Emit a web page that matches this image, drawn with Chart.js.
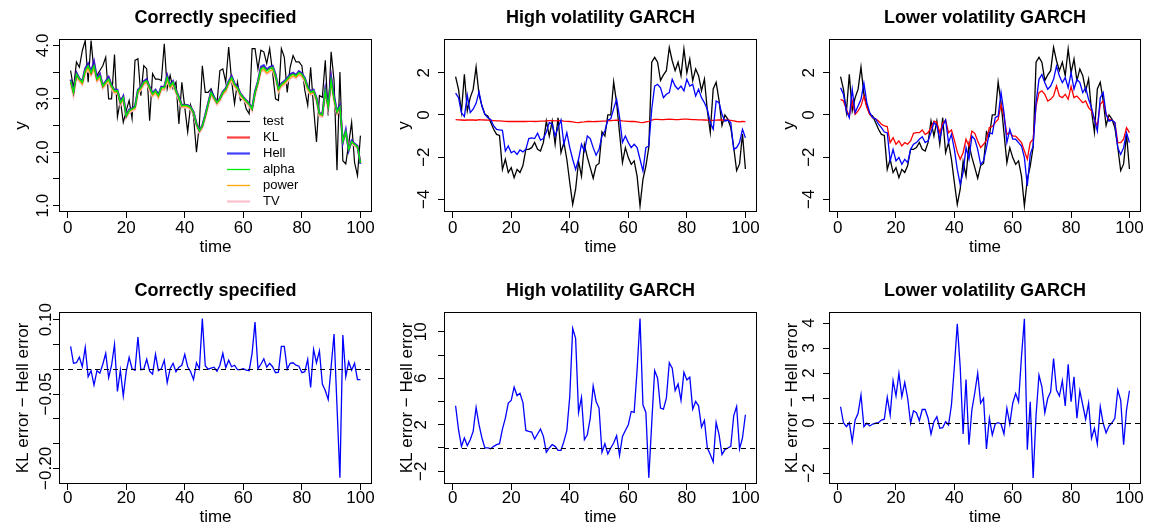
<!DOCTYPE html>
<html><head><meta charset="utf-8">
<script src="https://cdn.jsdelivr.net/npm/chart.js@4.4.1/dist/chart.umd.min.js"></script>
<style>
html,body{margin:0;padding:0;background:#fff;}
#wrap{position:relative;width:1149px;height:528px;overflow:hidden;background:#fff;}
canvas{position:absolute;}
</style></head><body><div id="wrap">
<canvas id="c1" width="383" height="264" style="left:0px;top:0px"></canvas>
<canvas id="c2" width="383" height="264" style="left:383px;top:0px"></canvas>
<canvas id="c3" width="383" height="264" style="left:766px;top:0px"></canvas>
<canvas id="c4" width="383" height="264" style="left:0px;top:264px"></canvas>
<canvas id="c5" width="383" height="264" style="left:383px;top:264px"></canvas>
<canvas id="c6" width="383" height="264" style="left:766px;top:264px"></canvas>
</div>
<script>
// ---------------- data ----------------
const time = Array.from({length: 100}, (_, i) => i + 1);

const testCS = [3.53,3.19,3.69,3.59,3.90,4.09,3.31,4.09,3.50,3.44,
3.53,3.62,3.78,3.00,3.00,3.83,2.66,2.97,2.56,2.78,
2.97,2.63,3.72,3.75,3.06,3.62,3.56,2.59,3.47,3.37,
3.37,3.34,4.03,3.19,3.44,3.19,3.31,2.53,3.31,2.84,
2.38,2.88,2.66,2.00,2.53,3.62,3.12,3.12,3.19,3.03,
2.91,3.53,3.56,3.31,3.97,3.34,2.91,3.31,2.97,3.03,
2.81,2.72,3.94,3.94,3.56,3.91,3.88,3.66,3.94,3.50,
3.00,2.97,3.94,3.78,3.12,3.59,3.81,3.69,3.69,3.62,
3.16,2.88,3.59,2.84,2.19,3.06,3.03,3.72,2.69,3.88,
3.34,1.66,3.50,1.84,1.78,2.16,2.56,1.81,1.56,2.31];

const fitAlphaCS = [3.34,3.12,3.46,3.37,3.31,3.53,3.62,3.49,3.62,3.37,
3.43,3.24,3.31,3.37,3.24,3.15,3.15,2.93,3.02,2.68,
2.78,2.81,2.84,3.15,3.21,3.31,3.34,3.21,3.09,3.15,
3.06,3.21,3.21,3.40,3.24,3.31,3.15,3.02,2.87,2.88,
2.87,2.84,2.74,2.53,2.40,2.49,2.68,2.90,3.12,3.02,
2.93,3.00,3.12,3.18,3.31,3.40,3.27,3.21,3.09,3.02,
2.96,2.90,2.81,3.12,3.31,3.56,3.59,3.52,3.56,3.59,
3.43,3.18,3.27,3.31,3.37,3.43,3.46,3.43,3.49,3.46,
3.37,3.21,3.12,3.15,3.00,2.72,2.70,3.15,2.85,3.35,
3.00,2.75,2.85,2.20,2.38,2.05,2.20,2.15,2.10,1.80];

const fitHellCS = [3.36,3.14,3.49,3.38,3.33,3.57,3.66,3.51,3.70,3.39,
3.47,3.25,3.33,3.41,3.25,3.17,3.17,2.94,3.05,2.69,
2.80,2.82,2.86,3.17,3.22,3.33,3.37,3.22,3.11,3.17,
3.08,3.23,3.22,3.44,3.26,3.33,3.16,3.03,2.88,2.89,
2.88,2.85,2.75,2.54,2.41,2.50,2.70,2.92,3.14,3.04,
2.94,3.01,3.13,3.20,3.33,3.43,3.29,3.23,3.10,3.03,
2.97,2.91,2.82,3.14,3.33,3.60,3.63,3.55,3.60,3.62,
3.46,3.20,3.29,3.33,3.39,3.46,3.49,3.45,3.52,3.48,
3.39,3.23,3.14,3.17,3.02,2.73,2.71,3.19,2.87,3.42,
3.05,2.77,2.88,2.18,2.42,2.03,2.22,2.16,2.12,1.78];

const fitKLCS = [3.35,3.13,3.48,3.38,3.32,3.56,3.65,3.50,3.68,3.38,
3.46,3.25,3.32,3.40,3.25,3.16,3.16,2.94,3.04,2.69,
2.79,2.82,2.85,3.16,3.22,3.32,3.36,3.22,3.10,3.16,
3.07,3.22,3.22,3.43,3.25,3.32,3.16,3.03,2.88,2.89,
2.88,2.85,2.75,2.54,2.41,2.50,2.69,2.91,3.13,3.03,
2.94,3.01,3.13,3.19,3.32,3.42,3.28,3.22,3.10,3.03,
2.97,2.91,2.82,3.13,3.32,3.58,3.61,3.54,3.58,3.61,
3.45,3.19,3.28,3.32,3.38,3.45,3.48,3.44,3.51,3.47,
3.38,3.22,3.13,3.16,3.01,2.73,2.71,3.17,2.86,3.40,
3.03,2.76,2.87,2.19,2.40,2.04,2.21,2.16,2.11,1.79];

const fitPowerCS = [3.31,3.09,3.43,3.34,3.28,3.49,3.57,3.45,3.57,3.34,
3.40,3.21,3.28,3.34,3.21,3.12,3.12,2.90,2.99,2.66,
2.76,2.79,2.82,3.12,3.18,3.28,3.31,3.18,3.06,3.12,
3.03,3.18,3.18,3.36,3.21,3.28,3.12,3.00,2.85,2.86,
2.85,2.82,2.72,2.51,2.38,2.47,2.66,2.88,3.09,3.00,
2.91,2.98,3.09,3.15,3.28,3.36,3.24,3.18,3.06,3.00,
2.94,2.88,2.79,3.09,3.28,3.52,3.55,3.48,3.52,3.55,
3.40,3.15,3.24,3.28,3.34,3.40,3.43,3.40,3.46,3.43,
3.34,3.18,3.09,3.12,2.97,2.70,2.68,3.12,2.82,3.30,
2.97,2.73,2.83,2.22,2.36,2.07,2.18,2.14,2.09,1.82];

const fitTVCS = [3.28,3.05,3.40,3.32,3.26,3.46,3.54,3.43,3.54,3.32,
3.38,3.19,3.26,3.32,3.19,3.10,3.10,2.88,2.97,2.64,
2.74,2.77,2.80,3.10,3.16,3.26,3.29,3.16,3.04,3.10,
3.01,3.16,3.16,3.34,3.19,3.26,3.10,2.98,2.83,2.84,
2.83,2.80,2.70,2.49,2.36,2.45,2.64,2.86,3.07,2.98,
2.89,2.96,3.07,3.13,3.26,3.34,3.22,3.16,3.04,2.98,
2.92,2.86,2.77,3.07,3.26,3.50,3.53,3.46,3.50,3.53,
3.38,3.13,3.22,3.26,3.32,3.38,3.41,3.38,3.44,3.41,
3.32,3.16,3.07,3.10,2.95,2.68,2.66,3.10,2.80,3.28,
2.95,2.71,2.81,2.24,2.34,2.09,2.16,2.12,2.07,1.84];

const testGARCH = [1.82,1.21,0.14,1.93,0.19,0.82,1.21,2.27,0.98,0.42,
0.03,-0.05,-0.36,-0.68,-0.92,-0.97,-2.58,-2.10,-2.73,-2.50,
-2.97,-2.58,-2.73,-2.40,-1.63,-1.63,-1.55,-1.30,-1.63,-1.71,
-1.30,-0.29,-1.00,-0.29,-1.39,-0.13,-1.79,-1.30,-2.10,-3.20,
-4.24,-3.52,-2.20,-2.90,-1.40,-2.00,-2.50,-3.00,-2.40,-2.30,
-0.80,-1.00,0.00,0.00,1.56,0.58,-0.84,-2.26,-1.55,-2.02,
-2.34,-2.18,-2.90,-4.31,-3.05,-2.42,-1.53,2.50,2.73,2.50,
1.63,1.90,2.10,3.20,2.57,2.10,2.50,1.86,3.13,2.00,
2.65,1.63,2.18,1.86,1.15,1.70,0.20,-0.82,1.23,1.55,
0.68,-0.50,0.00,-0.20,-0.60,-1.53,-2.64,-2.32,-0.90,-2.56];

const fitKLHigh = [-0.22,-0.23,-0.24,-0.25,-0.24,-0.23,-0.24,-0.25,-0.22,-0.23,
-0.24,-0.25,-0.26,-0.27,-0.28,-0.28,-0.29,-0.30,-0.31,-0.30,
-0.31,-0.31,-0.30,-0.31,-0.31,-0.30,-0.30,-0.31,-0.30,-0.29,
-0.29,-0.28,-0.27,-0.27,-0.28,-0.27,-0.27,-0.29,-0.30,-0.31,
-0.33,-0.35,-0.36,-0.34,-0.33,-0.31,-0.31,-0.32,-0.31,-0.30,
-0.29,-0.29,-0.28,-0.27,-0.26,-0.25,-0.26,-0.28,-0.29,-0.30,
-0.31,-0.31,-0.33,-0.35,-0.36,-0.33,-0.30,-0.24,-0.21,-0.21,
-0.22,-0.22,-0.21,-0.20,-0.21,-0.22,-0.22,-0.21,-0.20,-0.20,
-0.21,-0.22,-0.22,-0.23,-0.23,-0.24,-0.25,-0.26,-0.26,-0.25,
-0.24,-0.24,-0.23,-0.24,-0.26,-0.28,-0.31,-0.33,-0.31,-0.32];

const fitHellHigh = [1.03,0.82,0.11,-0.08,0.93,0.11,0.27,0.55,1.09,0.42,
0.03,-0.13,-0.21,-0.52,-0.68,-0.71,-0.73,-1.71,-1.47,-1.79,
-1.71,-1.87,-1.66,-1.75,-1.63,-1.12,-1.09,-1.12,-0.87,-1.19,
-1.12,-0.81,-0.36,-0.44,-1.00,-0.60,-0.24,-1.39,-0.84,-1.55,
-2.10,-2.58,-2.10,-1.39,-1.71,-1.00,-1.12,-1.55,-1.91,-1.63,
-1.00,-0.76,-0.24,-0.18,0.30,0.74,-0.10,-1.30,-1.00,-1.31,
-1.55,-1.39,-1.55,-2.10,-2.66,-1.55,-1.47,0.27,1.37,1.45,
1.29,0.82,0.98,1.06,1.69,1.37,1.22,1.37,1.14,1.69,
1.37,1.45,0.90,1.22,0.82,0.58,0.27,-0.36,-0.68,0.66,
0.58,0.03,-0.29,-0.24,-0.36,-1.63,-1.55,-1.31,-0.68,-1.08];

const fitKLLow = [0.74,0.66,0.27,-0.05,0.66,0.03,0.19,0.42,0.90,0.35,
0.03,-0.13,-0.18,-0.29,-0.44,-0.52,-0.55,-1.31,-1.08,-1.39,
-1.23,-1.47,-1.31,-1.39,-1.23,-0.87,-0.84,-0.84,-0.71,-0.92,
-0.84,-0.60,-0.29,-0.36,-0.84,-0.40,-0.24,-0.84,-0.71,-1.19,
-1.75,-2.10,-1.79,-1.15,-1.47,-0.77,-0.87,-1.23,-1.55,-1.39,
-1.20,-0.60,-0.55,-0.36,-0.21,0.50,-0.05,-0.92,-0.84,-1.00,
-1.00,-1.15,-1.31,-1.71,-2.10,-1.31,-1.15,0.42,1.06,1.14,
0.98,0.66,0.74,0.90,1.38,0.90,0.82,0.98,0.74,1.35,
0.82,0.90,0.74,0.58,0.66,0.35,0.19,-0.21,-0.52,0.50,
0.66,0.03,-0.21,-0.24,-0.36,-1.31,-1.31,-1.15,-0.60,-0.84];

const fitHellLow = [1.29,0.98,0.19,-0.13,1.21,0.11,0.42,0.74,1.50,0.58,
0.11,-0.13,-0.18,-0.44,-0.60,-0.81,-0.84,-2.18,-1.63,-2.18,
-2.02,-2.34,-2.10,-2.26,-1.63,-1.39,-1.31,-1.15,-1.03,-1.31,
-1.23,-0.84,-0.36,-0.52,-1.15,-0.52,-0.24,-1.31,-0.92,-1.63,
-2.58,-3.29,-2.73,-1.55,-2.10,-1.00,-1.15,-1.63,-2.34,-2.18,
-1.55,-0.84,-0.90,-0.13,-0.05,1.06,0.11,-1.31,-0.68,-1.15,
-1.15,-1.31,-1.47,-2.02,-3.37,-1.87,-1.47,0.58,1.69,1.92,
1.53,1.22,1.37,1.69,2.32,1.85,1.53,1.77,1.29,2.00,
1.22,1.69,1.53,1.06,1.29,0.74,0.35,-0.21,-0.76,0.82,
1.06,0.03,-0.29,-0.24,-0.36,-1.55,-1.87,-1.55,-0.84,-1.31];

const diffCS = [0.046,0.012,0.013,0.024,0.005,0.044,-0.015,-0.003,-0.032,-0.003,
-0.008,0.010,0.032,-0.017,0.008,0.050,-0.045,-0.002,-0.054,-0.005,
0.024,0.001,-0.002,0.065,-0.001,0.000,0.020,-0.004,-0.010,0.030,
-0.003,0.001,0.018,-0.027,0.001,0.012,-0.005,0.004,0.008,0.030,
0.005,-0.005,-0.021,0.013,0.001,0.102,0.007,0.000,0.002,0.004,
-0.004,0.008,0.032,0.003,0.018,0.005,0.008,-0.001,-0.001,0.001,
-0.002,-0.003,0.032,0.095,0.001,0.010,0.021,0.004,0.012,0.005,
-0.007,-0.006,0.046,0.046,0.000,0.012,0.013,0.008,0.006,-0.007,
-0.005,0.020,-0.037,0.040,0.013,0.037,-0.030,-0.043,-0.061,0.005,
0.071,-0.074,-0.219,0.069,-0.015,0.015,-0.002,0.012,-0.021,-0.021];

const diffHigh = [3.63,1.57,0.14,0.86,0.20,0.71,1.43,3.49,2.00,0.86,
0.00,0.00,-0.06,0.14,0.29,0.37,1.63,2.57,3.86,4.09,
5.23,4.51,4.71,3.91,1.51,1.43,1.37,0.77,1.20,1.63,
1.00,-0.37,0.00,0.29,0.14,-0.20,-0.20,0.57,1.49,4.43,
10.29,9.43,3.06,4.34,0.71,1.14,2.57,5.34,4.00,3.43,
-0.37,0.37,-0.51,0.00,0.43,1.06,-0.63,1.00,1.51,2.00,
3.14,3.06,6.71,11.14,3.71,3.06,-2.57,2.14,6.66,6.00,
3.43,3.34,4.29,7.34,6.86,4.94,5.51,4.09,6.51,5.86,
6.09,3.34,4.00,3.63,1.80,2.37,0.00,-0.57,-1.20,2.20,
1.14,-0.57,-0.14,0.00,0.14,2.77,3.57,-0.09,0.86,2.86];

const diffLow = [0.65,0.01,-0.15,0.01,-0.74,0.12,0.39,1.12,-0.15,-0.01,
-0.12,-0.04,-0.01,0.01,0.12,0.15,1.03,0.32,1.69,1.08,
1.98,1.05,1.62,0.99,-0.01,0.49,0.41,0.09,0.54,0.54,
0.19,-0.44,0.05,0.25,-0.21,-0.19,0.05,-0.08,0.72,2.25,
3.97,2.25,-0.44,1.74,-0.87,0.52,1.21,2.00,0.79,0.99,
-1.04,0.19,-0.48,-0.04,0.01,-0.04,-0.44,0.59,-0.04,0.79,
1.18,0.85,2.65,4.17,-1.07,0.85,-2.20,0.32,1.92,1.45,
0.41,0.99,1.25,2.58,1.32,1.08,1.69,0.68,2.35,0.85,
1.85,0.19,1.29,0.72,0.15,0.79,-0.61,-0.21,-0.84,0.65,
-0.01,-0.39,-0.12,0.01,0.19,1.32,0.92,-0.87,0.52,1.29];

// tick labels
const xTickValues = [0, 20, 40, 60, 80, 100];
const xTickLabels = ["0", "20", "40", "60", "80", "100"];
const yTickValsCS = [1, 2, 3, 4];
const yTickLabsCS = ["1.0", "2.0", "3.0", "4.0"];
const yTickValsG = [-4, -2, 0, 2];
const yTickLabsG = ["\u22124", "\u22122", "0", "2"];
const yTickValsDiffCS = [0.10, -0.05, -0.20];
const yTickLabsDiffCS = ["0.10", "\u22120.05", "\u22120.20"];
const yTickValsDiffHigh = [10, 6, 2, -2];
const yTickLabsDiffHigh = ["10", "6", "2", "\u22122"];
const yTickValsDiffLow = [4, 3, 2, 1, 0, -2];
const yTickLabsDiffLow = ["4", "3", "2", "1", "0", "\u22122"];

const legendLabels = ["test", "KL", "Hell", "alpha", "power", "TV"];

// ---------------- drawing ----------------
const FONT = '"Liberation Sans", Arial, Helvetica, sans-serif';
Chart.defaults.font.family = FONT;
Chart.defaults.color = '#000';

const COL = {
  test: '#000000', KL: 'rgba(255,0,0,0.75)', Hell: 'rgba(0,0,255,0.75)',
  alpha: '#00ee00', power: '#ffa500', TV: '#ffc0cb', red: '#ff0000', blue: '#0000ff'
};

function widest(labels, size) {
  const c = document.createElement('canvas').getContext('2d');
  c.font = 'normal ' + size + 'px ' + FONT;
  let w = 0;
  labels.forEach(s => { w = Math.max(w, c.measureText(s).width); });
  return w;
}

function series(vals, color, order, width) {
  return {
    data: vals.map((v, i) => ({x: time[i], y: v})),
    borderColor: color, backgroundColor: color, borderWidth: width || 1.3,
    pointRadius: 0, pointHoverRadius: 0, fill: false, tension: 0, order: order
  };
}

const framePlugin = {
  id: 'frame',
  afterDraw(chart) {
    const {ctx, chartArea: a} = chart;
    ctx.save();
    ctx.strokeStyle = '#000';
    ctx.lineWidth = 1;
    ctx.strokeRect(Math.round(a.left) + 0.5, Math.round(a.top) + 0.5,
      Math.round(a.right - a.left) - 1, Math.round(a.bottom - a.top) - 1);
    ctx.restore();
  }
};

function zeroLinePlugin(value) {
  return {
    id: 'zeroLine',
    afterDatasetsDraw(chart) {
      const {ctx, chartArea: a} = chart;
      const y = Math.round(chart.scales.y.getPixelForValue(value)) + 0.5;
      ctx.save();
      ctx.strokeStyle = '#000';
      ctx.lineWidth = 1.1;
      ctx.setLineDash([5, 4]);
      ctx.beginPath();
      ctx.moveTo(a.left, y);
      ctx.lineTo(a.right, y);
      ctx.stroke();
      ctx.restore();
    }
  };
}

function legendPlugin(cfg) {
  return {
    id: 'rlegend',
    afterDatasetsDraw(chart) {
      const {ctx, chartArea: a} = chart;
      ctx.save();
      ctx.font = '13px ' + FONT;
      ctx.textBaseline = 'middle';
      ctx.textAlign = 'left';
      ctx.fillStyle = '#000';
      cfg.labels.forEach((lab, i) => {
        const y = Math.round(a.top + cfg.y0 + i * cfg.dy) + 0.5;
        ctx.strokeStyle = cfg.colors[i];
        ctx.lineWidth = cfg.widths[i];
        ctx.beginPath();
        ctx.moveTo(a.left + cfg.x0, y);
        ctx.lineTo(a.left + cfg.x1, y);
        ctx.stroke();
        ctx.fillText(lab, a.left + cfg.tx, y);
      });
      ctx.restore();
    }
  };
}

const X_MIN = -2.96, X_MAX = 103.96;

function panel(id, p) {
  const W = 383, H = 264;
  const yw = widest(p.yLabs, 17);
  const plugins = [framePlugin];
  if (p.zero !== undefined) plugins.push(zeroLinePlugin(p.zero));
  if (p.legend) plugins.push(legendPlugin(p.legend));
  const tickGrid = {drawOnChartArea: false, drawTicks: true, tickLength: 6, color: '#000', lineWidth: 1};
  new Chart(document.getElementById(id), {
    type: 'line',
    data: {datasets: p.datasets},
    plugins: plugins,
    options: {
      responsive: false, animation: false, devicePixelRatio: 1,
      events: [],
      layout: {padding: {left: 0, top: 0, bottom: 0, right: W - p.box.R}},
      plugins: {
        legend: {display: false},
        tooltip: {enabled: false},
        title: {
          display: true, text: p.title, fullSize: false, color: '#000',
          font: {size: 18, weight: 'bold'},
          padding: {top: p.box.T - 31.8, bottom: 10.2}
        }
      },
      scales: {
        x: {
          type: 'linear', min: X_MIN, max: X_MAX,
          afterFit: s => { s.height = H - p.box.B; },
          ticks: {
            stepSize: 20, includeBounds: false, autoSkip: false, maxRotation: 0, minRotation: 0,
            padding: p.xPad, font: {size: 17}, color: '#000',
            callback: v => { const k = xTickValues.findIndex(t => Math.abs(t - v) < 1e-6); return k >= 0 ? xTickLabels[k] : ''; }
          },
          grid: tickGrid, border: {display: false},
          title: {display: true, text: 'time', color: '#000', font: {size: 17}, padding: {top: 0, bottom: p.xTitlePad}}
        },
        y: {
          type: 'linear', min: p.yMin, max: p.yMax,
          afterFit: s => { s.width = p.box.L; },
          ticks: {
            stepSize: p.yStep, includeBounds: false, autoSkip: false,
            minRotation: 90, maxRotation: 90, crossAlign: 'center',
            padding: p.yD - 6 - yw / 2, font: {size: 17}, color: '#000',
            callback: v => { const k = p.yVals.findIndex(t => Math.abs(t - v) < 1e-6); return k >= 0 ? p.yLabs[k] : ''; }
          },
          grid: tickGrid, border: {display: false},
          title: {display: true, text: p.yTitle, color: '#000', font: {size: 17}, padding: {top: p.box.L - p.yTitleOff - 10.2, bottom: 0}}
        }
      }
    }
  });
}

const TOP = {T: 39, B: 212}, BOT = {T: 48, B: 220};

panel('c1', {
  box: {L: 59, R: 372, T: TOP.T, B: TOP.B}, title: 'Correctly specified', yTitle: 'y',
  yMin: 0.88, yMax: 4.12, yStep: 0.5, yVals: yTickValsCS, yLabs: yTickLabsCS,
  yD: 15.3, yTitleOff: 37.3, xPad: -0.2, xTitlePad: 6.8,
  datasets: [
    series(testCS, COL.test, 6, 1.2),
    series(fitTVCS, COL.TV, 5, 2),
    series(fitPowerCS, COL.power, 4, 1.3),
    series(fitKLCS, COL.KL, 3, 2),
    series(fitHellCS, COL.Hell, 2, 2),
    series(fitAlphaCS, COL.alpha, 1, 1.4)
  ],
  legend: {
    labels: legendLabels,
    colors: [COL.test, COL.KL, COL.Hell, COL.alpha, COL.power, COL.TV],
    widths: [1.2, 2.2, 2.2, 1.3, 1.3, 2.2],
    x0: 168, x1: 191, tx: 204, y0: 81.5, dy: 16.1
  }
});

panel('c2', {
  box: {L: 61, R: 374, T: TOP.T, B: TOP.B}, title: 'High volatility GARCH', yTitle: 'y',
  yMin: -4.6, yMax: 3.6, yStep: 2, yVals: yTickValsG, yLabs: yTickLabsG,
  yD: 20, yTitleOff: 40, xPad: -0.2, xTitlePad: 6.8,
  datasets: [
    series(testGARCH, COL.test, 3, 1.3),
    series(fitKLHigh, COL.red, 2, 1.3),
    series(fitHellHigh, COL.blue, 1, 1.3)
  ]
});

panel('c3', {
  box: {L: 63, R: 375, T: TOP.T, B: TOP.B}, title: 'Lower volatility GARCH', yTitle: 'y',
  yMin: -4.6, yMax: 3.6, yStep: 2, yVals: yTickValsG, yLabs: yTickLabsG,
  yD: 20, yTitleOff: 40, xPad: -0.2, xTitlePad: 6.8,
  datasets: [
    series(testGARCH, COL.test, 3, 1.3),
    series(fitKLLow, COL.red, 2, 1.3),
    series(fitHellLow, COL.blue, 1, 1.3)
  ]
});

panel('c4', {
  box: {L: 59, R: 372, T: BOT.T, B: BOT.B}, title: 'Correctly specified', yTitle: 'KL error \u2212 Hell error',
  yMin: -0.2314, yMax: 0.1153, yStep: 0.05, yVals: yTickValsDiffCS, yLabs: yTickLabsDiffCS,
  yD: 13, yTitleOff: 36, xPad: -2.2, xTitlePad: 0, zero: 0,
  datasets: [series(diffCS, COL.blue, 1, 1.3)]
});

panel('c5', {
  box: {L: 61, R: 374, T: BOT.T, B: BOT.B}, title: 'High volatility GARCH', yTitle: 'KL error \u2212 Hell error',
  yMin: -3.1, yMax: 11.7, yStep: 2, yVals: yTickValsDiffHigh, yLabs: yTickLabsDiffHigh,
  yD: 22.5, yTitleOff: 36.7, xPad: -2.2, xTitlePad: 0, zero: 0,
  datasets: [series(diffHigh, COL.blue, 1, 1.3)]
});

panel('c6', {
  box: {L: 63, R: 375, T: BOT.T, B: BOT.B}, title: 'Lower volatility GARCH', yTitle: 'KL error \u2212 Hell error',
  yMin: -2.44, yMax: 4.44, yStep: 1, yVals: yTickValsDiffLow, yLabs: yTickLabsDiffLow,
  yD: 19.5, yTitleOff: 36.7, xPad: -2.2, xTitlePad: 0, zero: 0,
  datasets: [series(diffLow, COL.blue, 1, 1.3)]
});
</script>
</body></html>
